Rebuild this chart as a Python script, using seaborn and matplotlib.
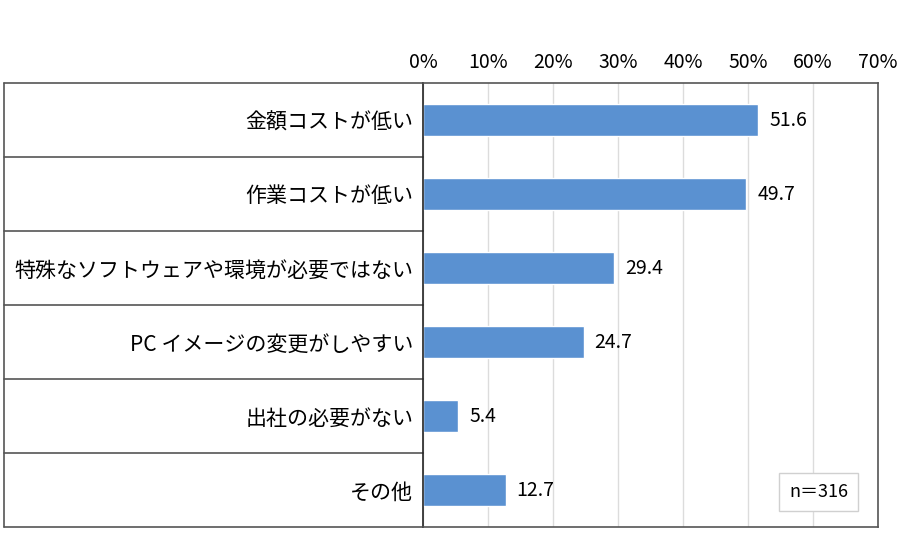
import pandas as pd
import matplotlib
matplotlib.use('Agg')
import matplotlib.pyplot as plt
import seaborn as sns

# data
categories = ['金額コストが低い', '作業コストが低い', '特殊なソフトウェアや環境が必要ではない',
              'PC イメージの変更がしやすい', '出社の必要がない', 'その他']
values = [51.6, 49.7, 29.4, 24.7, 5.4, 12.7]
ticks = [0, 10, 20, 30, 40, 50, 60, 70]
tick_labels = ['0%', '10%', '20%', '30%', '40%', '50%', '60%', '70%']
n_text = 'n＝316'

data = pd.DataFrame({'item': categories, 'pct': values})

sns.set_style('white')
plt.rcParams['font.family'] = ['Noto Sans CJK JP', 'DejaVu Sans']

fig = plt.figure(figsize=(9, 5.57), dpi=100)
ax = fig.add_axes([423 / 900, 1 - 527 / 557, 455 / 900, 444 / 557])

sns.barplot(x='pct', y='item', data=data, color='#5a91d1', width=0.42,
            saturation=1, orient='h', ax=ax)
ax.bar_label(ax.containers[0], fmt='%.1f', padding=8, fontsize=14, color='#000000')

ax.set_xlim(0, 70)
ax.set_ylim(len(categories) - 0.5, -0.5)
ax.set_xticks(ticks)
ax.set_xticklabels(tick_labels)
ax.xaxis.tick_top()
ax.tick_params(axis='x', length=0, pad=7, labelsize=14, colors='#000000')
ax.tick_params(axis='y', length=0, pad=7, labelsize=15.1, colors='#000000')
ax.set_xlabel('')
ax.set_ylabel('')
ax.grid(axis='x', color='#dcdcdc', linewidth=1)
ax.set_axisbelow(True)
for s in ax.spines.values():
    s.set_color('#555555')
    s.set_linewidth(1.2)
ax.spines['left'].set_color('#222222')

# the table of row labels to the left of the axis
left = -(423 - 4) / 455
tr = ax.get_yaxis_transform()
for i in range(len(categories) + 1):
    ax.plot([left, 0], [i - 0.5, i - 0.5], transform=tr, clip_on=False,
            color='#555555', linewidth=1.2)
ax.plot([left, left], [-0.5, len(categories) - 0.5], transform=tr, clip_on=False,
        color='#555555', linewidth=1.2)

ax.text(0.87, 0.079, n_text, transform=ax.transAxes, ha='center', va='center',
        fontsize=13, color='#000000',
        bbox=dict(boxstyle='square,pad=0.55', facecolor='white', edgecolor='#d0d0d0'))

plt.savefig('out.png', dpi=100)
